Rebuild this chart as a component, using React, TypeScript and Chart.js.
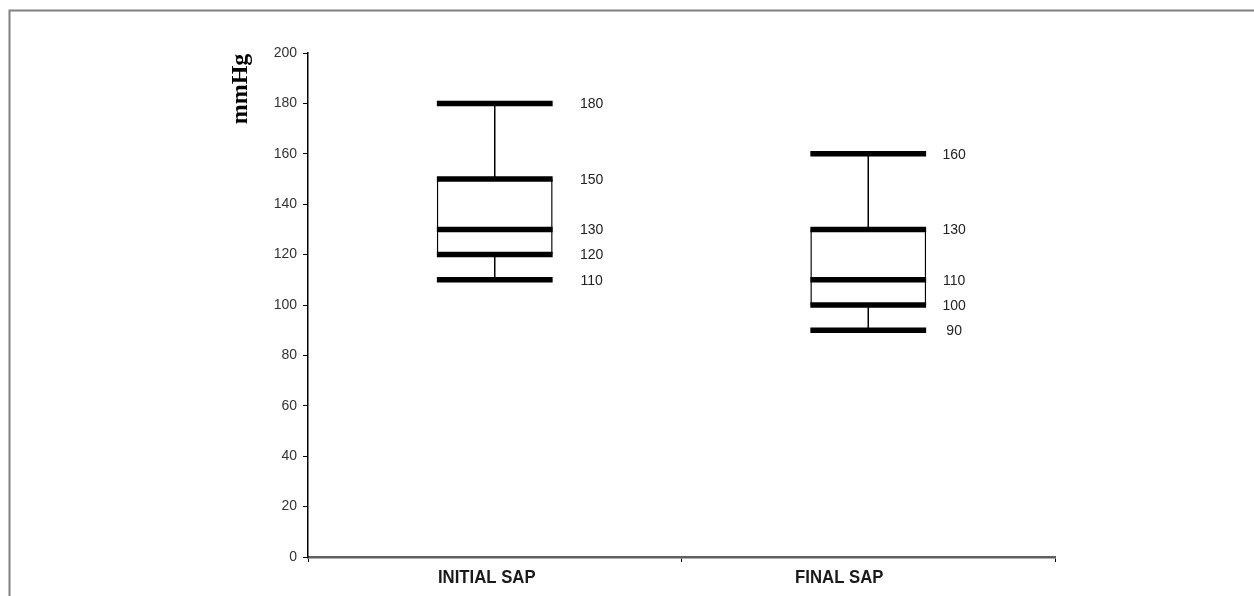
import React, { useEffect, useRef } from "react";
import { Chart, registerables } from "chart.js";

Chart.register(...registerables);

const categories = ["INITIAL SAP", "FINAL SAP"];
const minValues = [110, 90];
const q1Values = [120, 100];
const medianValues = [130, 110];
const q3Values = [150, 130];
const maxValues = [180, 160];
const yTicks = [0, 20, 40, 60, 80, 100, 120, 140, 160, 180, 200];
const yTitle = "mmHg";

// layout tweaks (pixels), not data
const categoryLabelShift = [-8, -29];
const valueLabelGap = [39, 28];

const boxPlugin = {
  id: "boxWhiskers",
  afterDatasetsDraw(chart: any) {
    const ctx = chart.ctx;
    const y = chart.scales.y;
    const meta = chart.getDatasetMeta(0);
    ctx.save();
    meta.data.forEach((bar: any, i: number) => {
      const cx = bar.x;
      const half = bar.width / 2;
      const left = cx - half;
      const right = cx + half;
      ctx.strokeStyle = "#000";
      ctx.lineWidth = 1.5;
      ctx.beginPath();
      ctx.moveTo(cx, y.getPixelForValue(maxValues[i]));
      ctx.lineTo(cx, y.getPixelForValue(q3Values[i]));
      ctx.moveTo(cx, y.getPixelForValue(q1Values[i]));
      ctx.lineTo(cx, y.getPixelForValue(minValues[i]));
      ctx.stroke();
      const vals = [maxValues[i], q3Values[i], medianValues[i], q1Values[i], minValues[i]];
      ctx.lineWidth = 5.5;
      vals.forEach((v) => {
        const py = y.getPixelForValue(v);
        ctx.beginPath();
        ctx.moveTo(left, py);
        ctx.lineTo(right, py);
        ctx.stroke();
      });
      ctx.fillStyle = "#222";
      ctx.font = '14px "Liberation Sans", Arial, sans-serif';
      ctx.textAlign = "center";
      ctx.textBaseline = "middle";
      vals.forEach((v) => {
        ctx.fillText(String(v), right + valueLabelGap[i], y.getPixelForValue(v) + 1);
      });
    });
    ctx.restore();
  },
  afterDraw(chart: any) {
    const ctx = chart.ctx;
    const area = chart.chartArea;
    const x = chart.scales.x;
    // category labels (condensed bold)
    categories.forEach((label, i) => {
      ctx.save();
      const px = x.getPixelForValue(i) + categoryLabelShift[i];
      ctx.translate(px, area.bottom + 26);
      ctx.scale(0.93, 1);
      ctx.font = 'bold 18px "Liberation Sans", Arial, sans-serif';
      ctx.fillStyle = "#1a1a1a";
      ctx.textAlign = "center";
      ctx.textBaseline = "alphabetic";
      ctx.fillText(label, 0, 0);
      ctx.restore();
    });
    // y title
    ctx.save();
    ctx.translate(area.left - 61, area.top + 36);
    ctx.rotate(-Math.PI / 2);
    ctx.font = 'bold 24px "Liberation Serif", "Times New Roman", serif';
    ctx.fillStyle = "#000";
    ctx.textAlign = "center";
    ctx.textBaseline = "alphabetic";
    ctx.fillText(yTitle, 0, 0);
    ctx.restore();
    // frame
    ctx.save();
    ctx.strokeStyle = "#808080";
    ctx.lineWidth = 2;
    ctx.beginPath();
    ctx.moveTo(9.5, chart.height);
    ctx.lineTo(9.5, 10.5);
    ctx.lineTo(chart.width, 10.5);
    ctx.stroke();
    ctx.restore();
  },
};

export default function App() {
  const ref = useRef<HTMLCanvasElement>(null);
  useEffect(() => {
    if (!ref.current) return;
    const chart = new Chart(ref.current, {
      type: "bar",
      data: {
        labels: categories,
        datasets: [
          {
            data: categories.map((_, i) => [q1Values[i], q3Values[i]]),
            backgroundColor: "#fff",
            borderColor: "#000",
            borderWidth: 1.5,
            borderSkipped: false,
            barPercentage: 0.31,
            categoryPercentage: 1,
          } as any,
        ],
      },
      options: {
        animation: false,
        responsive: false,
        maintainAspectRatio: false,
        layout: { padding: { left: 0, right: 199, top: 53, bottom: 0 } },
        plugins: { legend: { display: false }, tooltip: { enabled: false } },
        scales: {
          x: {
            afterFit: (s: any) => {
              s.height = 39;
            },
            grid: { drawOnChartArea: false, drawTicks: true, tickLength: 5, color: "#000", offset: true },
            border: { color: "#606060", width: 2.5 },
            ticks: { display: false },
          },
          y: {
            min: 0,
            max: 200,
            afterFit: (s: any) => {
              s.width = 308;
            },
            afterBuildTicks: (s: any) => {
              s.ticks = yTicks.map((v) => ({ value: v }));
            },
            grid: { drawOnChartArea: false, drawTicks: true, tickLength: 5, color: "#000" },
            border: { color: "#000", width: 1.5 },
            ticks: {
              padding: 6,
              color: "#333",
              font: { family: '"Liberation Sans", Arial, sans-serif', size: 14 },
            },
          },
        },
      },
      plugins: [boxPlugin],
    });
    return () => chart.destroy();
  }, []);
  return (
    <div style={{ position: "fixed", left: 0, top: 0, width: 1254, height: 596, background: "#fff" }}>
      <canvas ref={ref} width={1254} height={596} />
    </div>
  );
}
